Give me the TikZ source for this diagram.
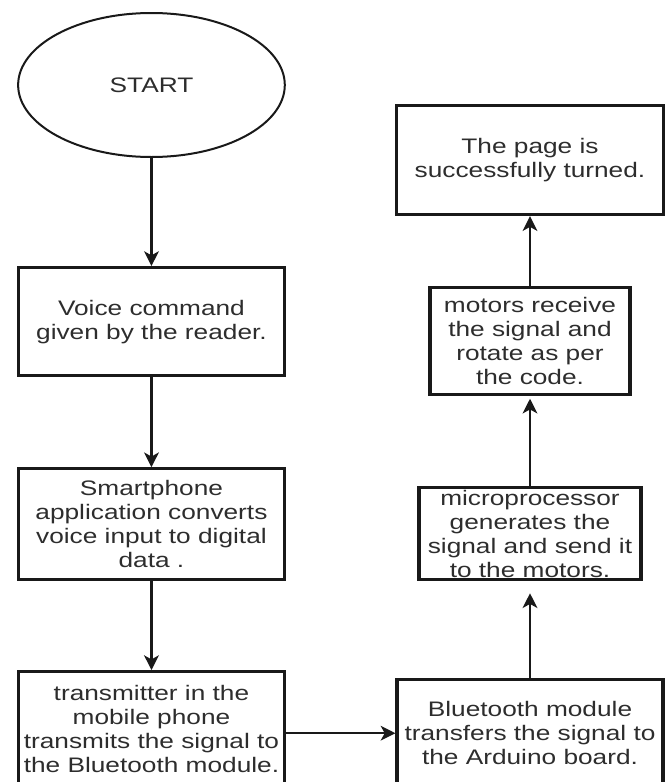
\documentclass[tikz,border=0pt]{standalone}
\usepackage{fontspec}
\setmainfont[FakeStretch=1.25]{Liberation Sans}
\usepackage{xcolor}
\usepackage{tikz}
\usetikzlibrary{
  shapes.geometric,
  arrows.meta,
  positioning
}
\definecolor{InkGray}{RGB}{25,25,25}
\definecolor{TextGray}{RGB}{45,45,45}
\tikzset{
  %%── flowchart nodes ─────────────────────────────────────────
  startnode/.style = {
    ellipse, draw = InkGray, line width = 1.5pt,
    minimum width = 200pt, minimum height = 108pt,
    inner sep = 0pt, align = center,
    font = \fontsize{15.75pt}{18pt}\selectfont, text = TextGray
  },
  procbox/.style = {
    rectangle, draw = InkGray, line width = 2.4pt,
    minimum width = 200pt, minimum height = 81pt,
    inner sep = 0pt, align = center,
    font = \fontsize{15.75pt}{18pt}\selectfont, text = TextGray
  },
  %%── arrows ─────────────────────────────────────────────────
  arr/.style = {-{Stealth[length=11pt, width=11pt, inset=3pt]},
    line width = 1.9pt, color = InkGray},
}

\begin{document}
\begin{tikzpicture}[node distance = 67.5pt and 81.75pt]

  \useasboundingbox (0pt,0pt) rectangle (501pt,-586.5pt);

  %% left column
  \node[startnode] at (113.6pt,-63.75pt) (start) {START};
  \node[procbox, below=81pt of start] (voice)
    {Voice command\\given by the reader.};
  \node[procbox, below=of voice, minimum height=83pt] (smart)
    {Smartphone\\application converts\\voice input to digital\\data .};
  \node[procbox, below=66.75pt of smart, minimum height=85.5pt] (trans)
    {transmitter in the\\mobile phone\\transmits the signal to\\the Bluetooth module.};

  %% right column
  \node[procbox, right=of trans, yshift=-3.4pt, minimum width=199.5pt,
        minimum height=80pt] (blue)
    {Bluetooth module\\transfers the signal to\\the Arduino board.};
  \node[procbox, above=72.75pt of blue, minimum width=166.5pt,
        minimum height=69pt] (micro)
    {microprocessor\\generates the\\signal and send it\\to the motors.};
  \node[procbox, above=of micro, minimum width=150pt,
        minimum height=80pt] (motors)
    {motors receive\\the signal and\\rotate as per\\the code.};
  \node[procbox, above=52.5pt of motors, minimum height=82pt] (page)
    {The page is\\successfully turned.};

  %% arrows
  \draw[arr] (start) -- (voice);
  \draw[arr] (voice) -- (smart);
  \draw[arr] (smart) -- (trans);
  \draw[arr] (blue.west -| trans.east) -- (blue.west);
  \draw[arr, shorten >= 9pt] (blue) -- (micro);
  \draw[arr, shorten >= 2pt] (micro) -- (motors);
  \draw[arr] (motors) -- (page);

\end{tikzpicture}
\end{document}
